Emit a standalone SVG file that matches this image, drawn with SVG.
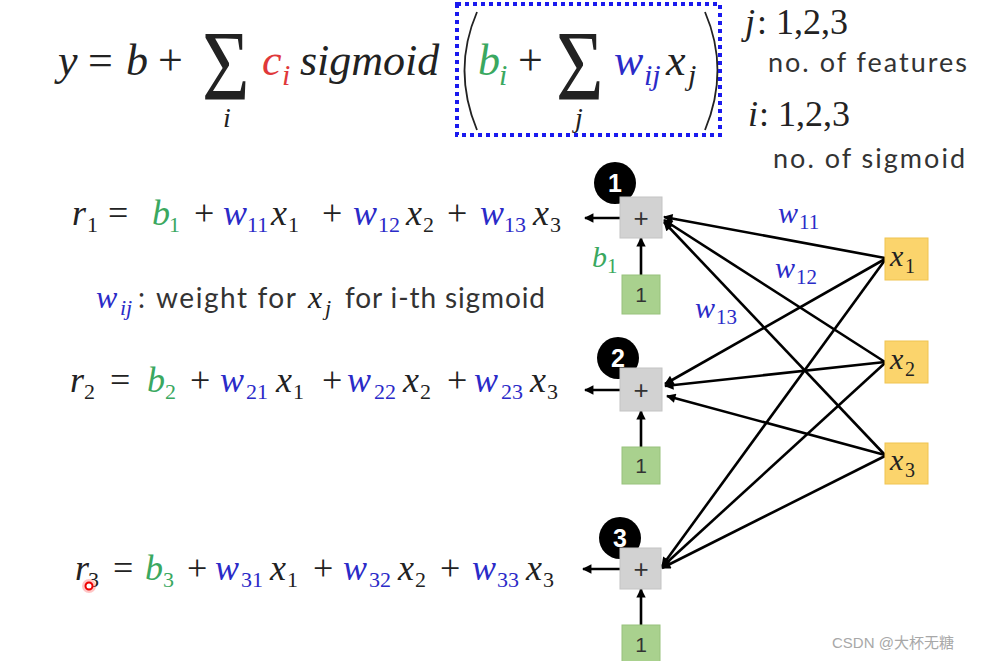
<svg xmlns="http://www.w3.org/2000/svg" width="983" height="661" viewBox="0 0 983 661">
<defs>
<style>
.m{font-family:"Liberation Serif",serif;font-style:italic;fill:#222}
.u{font-family:"Liberation Serif",serif;font-style:normal}
.s{font-family:Lato,"Liberation Sans",sans-serif;fill:#333}
.g{fill:#3aa860}
.bl{fill:#2b2bc8}
.rd{fill:#e0383a}
.edge{stroke:#000;stroke-width:2.6;fill:none;marker-end:url(#ah)}
.circ{fill:#000}
.cnum{font-family:"Liberation Sans",sans-serif;font-weight:bold;font-size:25px;fill:#fff;text-anchor:middle}
.plus{fill:#d2d2d2;stroke:#c4c4c4;stroke-width:1}
.one{fill:#a9d18e;stroke:#98c27c;stroke-width:1}
.xin{fill:#fbd46c;stroke:#f0c451;stroke-width:1}
.ptxt{font-family:"Liberation Sans",sans-serif;font-size:26px;fill:#333;text-anchor:middle}
.otxt{font-family:"Liberation Sans",sans-serif;font-size:21px;fill:#333;text-anchor:middle}
</style>
<marker id="ah" viewBox="0 0 10 10" refX="9" refY="5" markerWidth="4.2" markerHeight="3.6" orient="auto" markerUnits="strokeWidth">
<path d="M0,0 L10,5 L0,10 z" fill="#000"/>
</marker>
</defs>
<rect width="983" height="661" fill="#fff"/>

<!-- top formula -->
<g id="formula-top">
<text class="m" font-size="44">
<tspan x="58" y="75">y</tspan>
<tspan class="u" x="88" y="75">=</tspan>
<tspan x="126" y="75">b</tspan>
<tspan class="u" x="158" y="75">+</tspan>
<tspan class="rd" x="262" y="75">c</tspan><tspan class="rd" x="282" y="85" font-size="30">i</tspan>
<tspan x="300" y="75">sigmoid</tspan>
<tspan class="g" x="478" y="75">b</tspan><tspan class="g" x="499" y="85" font-size="30">i</tspan>
<tspan class="u" x="518" y="75">+</tspan>
<tspan class="bl" x="614" y="75">w</tspan><tspan class="bl" x="644" y="85" font-size="30">ij</tspan>
<tspan x="666" y="75">x</tspan><tspan x="688" y="85" font-size="30">j</tspan>
</text>
<text class="u" font-size="80" fill="#222" transform="translate(202,99) scale(1.02,1.25)">Σ</text>
<text class="m" font-size="28" x="223" y="127">i</text>
<text class="u" font-size="80" fill="#222" transform="translate(556,99) scale(1.02,1.25)">Σ</text>
<text class="m" font-size="28" x="575" y="127">j</text>
<path d="M477,12 Q452,70 477,130" stroke="#222" stroke-width="1.8" fill="none"/>
<path d="M705,12 Q730,70 705,130" stroke="#222" stroke-width="1.8" fill="none"/>
<rect x="457" y="4" width="263" height="131" fill="none" stroke="#1a1aee" stroke-width="4" stroke-dasharray="4,4"/>
</g>

<g id="index-notes">
<text class="m" font-size="36"><tspan x="745" y="34">j</tspan><tspan class="u" x="757" y="34">: 1,2,3</tspan></text>
<text class="s" font-size="27" x="768" y="72" textLength="199" lengthAdjust="spacing">no. of features</text>
<text class="m" font-size="36"><tspan x="748" y="126">i</tspan><tspan class="u" x="759" y="126">: 1,2,3</tspan></text>
<text class="s" font-size="27" x="773" y="168" textLength="192" lengthAdjust="spacing">no. of sigmoid</text>
</g>

<!-- r1 -->
<g id="eq-r1">
<text class="m" font-size="36">
<tspan x="72" y="225">r</tspan><tspan class="u" x="87" y="232" font-size="22">1</tspan>
<tspan class="u" x="108" y="225">=</tspan>
<tspan class="g" x="152" y="225">b</tspan><tspan class="g u" x="169" y="232" font-size="22">1</tspan>
<tspan class="u" x="194" y="225">+</tspan>
<tspan class="bl" x="223" y="225">w</tspan><tspan class="bl u" x="247" y="232" font-size="22">11</tspan>
<tspan x="271" y="225">x</tspan><tspan class="u" x="288" y="232" font-size="22">1</tspan>
<tspan class="u" x="322" y="225">+</tspan>
<tspan class="bl" x="353" y="225">w</tspan><tspan class="bl u" x="378" y="232" font-size="22">12</tspan>
<tspan x="406" y="225">x</tspan><tspan class="u" x="423" y="232" font-size="22">2</tspan>
<tspan class="u" x="447" y="225">+</tspan>
<tspan class="bl" x="480" y="225">w</tspan><tspan class="bl u" x="504" y="232" font-size="22">13</tspan>
<tspan x="533" y="225">x</tspan><tspan class="u" x="550" y="232" font-size="22">3</tspan>
</text>
</g>

<g id="wij-note">
<text class="m" font-size="32"><tspan class="bl" x="96" y="308">w</tspan><tspan class="bl" x="120" y="315" font-size="22">ij</tspan></text>
<text class="s" font-size="28" x="138" y="308">:</text>
<text class="s" font-size="28" x="156" y="308" textLength="140" lengthAdjust="spacing">weight for</text>
<text class="m" font-size="32"><tspan x="308" y="308">x</tspan><tspan x="325" y="315" font-size="22">j</tspan></text>
<text class="s" font-size="28" x="345" y="308" textLength="200" lengthAdjust="spacing">for i-th sigmoid</text>
</g>

<!-- r2 -->
<g id="eq-r2">
<text class="m" font-size="36">
<tspan x="70" y="392">r</tspan><tspan class="u" x="84" y="399" font-size="22">2</tspan>
<tspan class="u" x="110" y="392">=</tspan>
<tspan class="g" x="147" y="392">b</tspan><tspan class="g u" x="165" y="399" font-size="22">2</tspan>
<tspan class="u" x="190" y="392">+</tspan>
<tspan class="bl" x="220" y="392">w</tspan><tspan class="bl u" x="246" y="399" font-size="22">21</tspan>
<tspan x="276" y="392">x</tspan><tspan class="u" x="293" y="399" font-size="22">1</tspan>
<tspan class="u" x="322" y="392">+</tspan>
<tspan class="bl" x="347" y="392">w</tspan><tspan class="bl u" x="374" y="399" font-size="22">22</tspan>
<tspan x="403" y="392">x</tspan><tspan class="u" x="420" y="399" font-size="22">2</tspan>
<tspan class="u" x="447" y="392">+</tspan>
<tspan class="bl" x="474" y="392">w</tspan><tspan class="bl u" x="501" y="399" font-size="22">23</tspan>
<tspan x="530" y="392">x</tspan><tspan class="u" x="547" y="399" font-size="22">3</tspan>
</text>
</g>

<!-- r3 -->
<g id="eq-r3">
<text class="m" font-size="36">
<tspan x="75" y="580">r</tspan><tspan class="u" x="88" y="587" font-size="22">3</tspan>
<tspan class="u" x="113" y="580">=</tspan>
<tspan class="g" x="145" y="580">b</tspan><tspan class="g u" x="163" y="587" font-size="22">3</tspan>
<tspan class="u" x="187" y="580">+</tspan>
<tspan class="bl" x="215" y="580">w</tspan><tspan class="bl u" x="241" y="587" font-size="22">31</tspan>
<tspan x="270" y="580">x</tspan><tspan class="u" x="287" y="587" font-size="22">1</tspan>
<tspan class="u" x="313" y="580">+</tspan>
<tspan class="bl" x="343" y="580">w</tspan><tspan class="bl u" x="369" y="587" font-size="22">32</tspan>
<tspan x="398" y="580">x</tspan><tspan class="u" x="415" y="587" font-size="22">2</tspan>
<tspan class="u" x="440" y="580">+</tspan>
<tspan class="bl" x="472" y="580">w</tspan><tspan class="bl u" x="497" y="587" font-size="22">33</tspan>
<tspan x="526" y="580">x</tspan><tspan class="u" x="543" y="587" font-size="22">3</tspan>
</text>
<circle cx="89" cy="586" r="7" fill="#ff5a5a" opacity="0.35"/>
<circle cx="89" cy="586" r="3.5" fill="#fff" stroke="#e00" stroke-width="2"/>
</g>

<!-- connectors -->
<g id="connectors">
<line class="edge" x1="885" y1="258" x2="664" y2="217"/>
<line class="edge" x1="885" y1="362" x2="664" y2="220"/>
<line class="edge" x1="885" y1="455" x2="664" y2="222"/>
<line class="edge" x1="885" y1="259" x2="665" y2="384"/>
<line class="edge" x1="885" y1="362" x2="665" y2="386"/>
<line class="edge" x1="885" y1="455" x2="667" y2="396"/>
<line class="edge" x1="885" y1="260" x2="662" y2="566"/>
<line class="edge" x1="885" y1="363" x2="662" y2="567"/>
<line class="edge" x1="885" y1="456" x2="662" y2="568"/>
<line class="edge" x1="620" y1="218" x2="585" y2="218"/>
<line class="edge" x1="620" y1="390" x2="585" y2="390"/>
<line class="edge" x1="620" y1="569" x2="583" y2="569"/>
<line class="edge" x1="641" y1="275" x2="641" y2="238"/>
<line class="edge" x1="641" y1="447" x2="641" y2="411"/>
<line class="edge" x1="641" y1="625" x2="641" y2="589"/>
</g>

<g id="weight-labels">
<text class="m bl" font-size="30"><tspan x="778" y="223">w</tspan><tspan class="u" x="799" y="229" font-size="21">11</tspan></text>
<text class="m bl" font-size="30"><tspan x="775" y="278">w</tspan><tspan class="u" x="796" y="284" font-size="21">12</tspan></text>
<text class="m bl" font-size="30"><tspan x="695" y="318">w</tspan><tspan class="u" x="716" y="324" font-size="21">13</tspan></text>
<text class="m g" font-size="30"><tspan x="592" y="267">b</tspan><tspan class="u" x="607" y="273" font-size="21">1</tspan></text>
</g>

<!-- nodes -->
<g id="node1">
<circle class="circ" cx="615" cy="183" r="21"/>
<text class="cnum" x="615" y="192">1</text>
<rect class="plus" x="620" y="197" width="42" height="41"/>
<text class="ptxt" x="641" y="227">+</text>
<rect class="one" x="622" y="275" width="38" height="39"/>
<text class="otxt" x="641" y="302">1</text>
</g>
<g id="node2">
<circle class="circ" cx="618" cy="358" r="21"/>
<text class="cnum" x="618" y="367">2</text>
<rect class="plus" x="620" y="368" width="42" height="43"/>
<text class="ptxt" x="641" y="399">+</text>
<rect class="one" x="622" y="447" width="38" height="37"/>
<text class="otxt" x="641" y="473">1</text>
</g>
<g id="node3">
<circle class="circ" cx="620" cy="538" r="21"/>
<text class="cnum" x="620" y="547">3</text>
<rect class="plus" x="620" y="548" width="41" height="41"/>
<text class="ptxt" x="641" y="578">+</text>
<rect class="one" x="622" y="625" width="38" height="38"/>
<text class="otxt" x="641" y="652">1</text>
</g>
<g id="x1">
<rect class="xin" x="885" y="238" width="43" height="42"/>
<text class="m" font-size="30"><tspan x="890" y="266">x</tspan><tspan class="u" x="905" y="273" font-size="20">1</tspan></text>
</g>
<g id="x2">
<rect class="xin" x="885" y="341" width="43" height="42"/>
<text class="m" font-size="30"><tspan x="890" y="369">x</tspan><tspan class="u" x="905" y="376" font-size="20">2</tspan></text>
</g>
<g id="x3">
<rect class="xin" x="885" y="443" width="43" height="41"/>
<text class="m" font-size="30"><tspan x="890" y="470">x</tspan><tspan class="u" x="905" y="477" font-size="20">3</tspan></text>
</g>

<text x="832" y="648" font-family="'Liberation Sans','Noto Sans CJK SC',sans-serif" font-size="15" fill="#a8a8a8">CSDN @大杯无糖</text>
</svg>
